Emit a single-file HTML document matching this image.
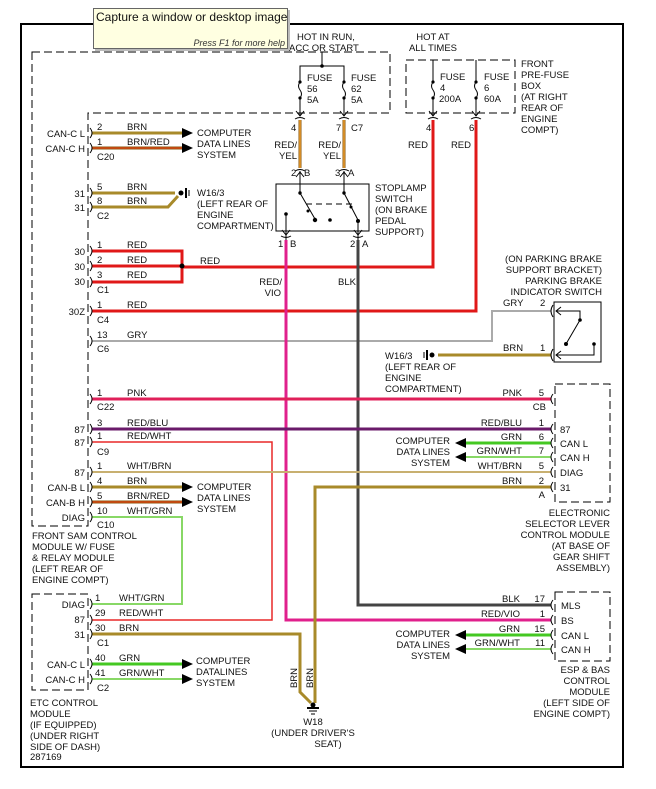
<!DOCTYPE html>
<html><head><meta charset="utf-8"><style>
html,body{margin:0;padding:0;background:#fff;}
svg{display:block;}
text{font-family:"Liberation Sans",sans-serif;font-size:9.5px;fill:#111;}
.r{text-anchor:end;}
.m{text-anchor:middle;}
</style></head><body>
<svg width="656" height="789" viewBox="0 0 656 789" xmlns="http://www.w3.org/2000/svg">
<rect x="0" y="0" width="656" height="789" fill="#fff"/>
<rect x="21" y="24" width="602" height="743" fill="none" stroke="#000" stroke-width="2"/>
<g fill="none" stroke="#000" stroke-width="1" stroke-dasharray="8,4">
<polygon points="32,52 390,52 390,113 88,113 88,526 32,526"/>
<rect x="406" y="60" width="109" height="53"/>
<rect x="555" y="384" width="55" height="118"/>
<rect x="555" y="592" width="55" height="69"/>
<rect x="32" y="594" width="56" height="96"/>
</g>
<g stroke="#000" stroke-width="1" fill="none">
<line x1="322" y1="52" x2="322" y2="66"/>
<polyline points="300,82 300,66 344,66 344,82"/>
<line x1="433" y1="60" x2="433" y2="82"/><line x1="476" y1="60" x2="476" y2="82"/>
<path d="M300,82 q-3,4 0,8 q3,4 0,8 M344,82 q-3,4 0,8 q3,4 0,8 M433,82 q-3,4 0,8 q3,4 0,8 M476,82 q-3,4 0,8 q3,4 0,8"/>
<line x1="300" y1="98" x2="300" y2="116"/><line x1="344" y1="98" x2="344" y2="116"/>
<line x1="433" y1="98" x2="433" y2="116"/><line x1="476" y1="98" x2="476" y2="116"/>
<path d="M296,111 l4,5 l4,-5 M340,111 l4,5 l4,-5 M429,111 l4,5 l4,-5 M472,111 l4,5 l4,-5"/>
<path d="M295,119 q5,-3 10,0 M339,119 q5,-3 10,0 M428,119 q5,-3 10,0 M471,119 q5,-3 10,0"/>
</g>
<g fill="#000"><circle cx="322" cy="66" r="1.8"/>
<circle cx="300" cy="82" r="1.6"/><circle cx="300" cy="98" r="1.6"/><circle cx="344" cy="82" r="1.6"/><circle cx="344" cy="98" r="1.6"/>
<circle cx="433" cy="82" r="1.6"/><circle cx="433" cy="98" r="1.6"/><circle cx="476" cy="82" r="1.6"/><circle cx="476" cy="98" r="1.6"/></g>
<text x="297" y="40">HOT IN RUN,</text><text x="289" y="51">ACC OR START</text>
<text x="433" y="40" class="m">HOT AT</text><text x="433" y="51" class="m">ALL TIMES</text>
<text x="307" y="81">FUSE</text><text x="307" y="92">56</text><text x="307" y="103">5A</text>
<text x="351" y="81">FUSE</text><text x="351" y="92">62</text><text x="351" y="103">5A</text>
<text x="440" y="80">FUSE</text><text x="440" y="91">4</text><text x="439" y="102">200A</text>
<text x="484" y="80">FUSE</text><text x="484" y="91">6</text><text x="484" y="102">60A</text>
<text x="521" y="67">FRONT</text><text x="521" y="78">PRE-FUSE</text><text x="521" y="89">BOX</text><text x="521" y="100">(AT RIGHT</text><text x="521" y="111">REAR OF</text><text x="521" y="122">ENGINE</text><text x="521" y="133">COMPT)</text>

<g fill="none" stroke-linejoin="miter">
<line x1="300" y1="120" x2="300" y2="168" stroke="#8a5a10" stroke-width="3"/><line x1="300" y1="120" x2="300" y2="168" stroke="#f0a030" stroke-width="1.4"/>
<line x1="344" y1="120" x2="344" y2="168" stroke="#8a5a10" stroke-width="3"/><line x1="344" y1="120" x2="344" y2="168" stroke="#f0a030" stroke-width="1.4"/>
<polyline points="433,120 433,267 182,267" stroke="#e01818" stroke-width="3"/>
<polyline points="476,120 476,311 92,311" stroke="#e01818" stroke-width="3"/>
<polyline points="92,251 182,251 182,282 92,282" stroke="#e01818" stroke-width="3"/>
<line x1="92" y1="266" x2="182" y2="266" stroke="#e01818" stroke-width="3"/>
<line x1="92" y1="133" x2="185" y2="133" stroke="#a88a2a" stroke-width="3"/>
<line x1="92" y1="148" x2="185" y2="148" stroke="#8a5a10" stroke-width="3"/><line x1="92" y1="148" x2="185" y2="148" stroke="#e04010" stroke-width="1.3"/>
<line x1="92" y1="193" x2="175" y2="193" stroke="#a88a2a" stroke-width="3"/>
<polyline points="92,207 168,207 178,196" stroke="#a88a2a" stroke-width="3"/>
<polyline points="92,341 492,341 492,311 551,311" stroke="#aaaaaa" stroke-width="2"/>
<line x1="438" y1="355" x2="551" y2="355" stroke="#a88a2a" stroke-width="3"/>
<polyline points="286,240 286,620 551,620" stroke="#e0208c" stroke-width="3"/>
<polyline points="358,240 358,605 551,605" stroke="#444" stroke-width="3"/>
<line x1="92" y1="399" x2="551" y2="399" stroke="#e0205a" stroke-width="3"/>
<line x1="92" y1="429" x2="551" y2="429" stroke="#6a1a6a" stroke-width="3"/>
<polyline points="92,442 272,442 272,620 92,620" stroke="#e82828" stroke-width="1.5"/>
<line x1="92" y1="472" x2="551" y2="472" stroke="#c8b070" stroke-width="2"/>
<line x1="92" y1="487" x2="185" y2="487" stroke="#a88a2a" stroke-width="3"/>
<line x1="92" y1="502" x2="185" y2="502" stroke="#8a5a10" stroke-width="3"/><line x1="92" y1="502" x2="185" y2="502" stroke="#e04010" stroke-width="1.3"/>
<polyline points="92,517 182,517 182,604 92,604" stroke="#88d866" stroke-width="2"/>
<polyline points="551,487 315,487 315,703" stroke="#a88a2a" stroke-width="3"/>
<polyline points="92,634 300,634 300,692 311,703" stroke="#a88a2a" stroke-width="3"/>
<line x1="92" y1="664" x2="185" y2="664" stroke="#44c822" stroke-width="3"/>
<line x1="92" y1="679" x2="185" y2="679" stroke="#88d866" stroke-width="2"/>
<line x1="462" y1="443" x2="551" y2="443" stroke="#44c822" stroke-width="3"/>
<line x1="462" y1="457" x2="551" y2="457" stroke="#88d866" stroke-width="2"/>
<line x1="462" y1="635" x2="551" y2="635" stroke="#44c822" stroke-width="3"/>
<line x1="462" y1="649" x2="551" y2="649" stroke="#88d866" stroke-width="2"/>
</g>
<g fill="#000">
<polygon points="182,128 193,133 182,138"/><polygon points="182,143 193,148 182,153"/>
<polygon points="182,482 193,487 182,492"/><polygon points="182,497 193,502 182,507"/>
<polygon points="182,659 193,664 182,669"/><polygon points="182,674 193,679 182,684"/>
<polygon points="466,438 455,443 466,448"/><polygon points="466,452 455,457 466,462"/>
<polygon points="466,630 455,635 466,640"/><polygon points="466,644 455,649 466,654"/>
<circle cx="182" cy="266" r="2.5"/>
</g>
<g stroke="#000" fill="none">
<line x1="186" y1="188" x2="186" y2="198" stroke-width="2"/><line x1="189" y1="190" x2="189" y2="196"/>
<line x1="427" y1="350" x2="427" y2="360" stroke-width="2"/><line x1="424" y1="352" x2="424" y2="358"/>
<line x1="307" y1="708" x2="319" y2="708" stroke-width="2"/><line x1="309" y1="711" x2="317" y2="711"/><line x1="311" y1="714" x2="315" y2="714"/>
</g>
<g fill="#000"><circle cx="181" cy="193" r="2.5"/><circle cx="432" cy="355" r="2.5"/><circle cx="313" cy="705" r="2.5"/></g>

<g stroke="#000" fill="none" stroke-width="1">
<rect x="276" y="184" width="93" height="47"/>
<path d="M295,171 q5,-3 10,0 M339,171 q5,-3 10,0 M281,236 q5,3 10,0 M353,236 q5,3 10,0"/>
<line x1="300" y1="171" x2="300" y2="193"/><line x1="344" y1="171" x2="344" y2="193"/>
<path d="M296,177 l4,-5 l4,5 M340,177 l4,-5 l4,5"/>
<line x1="300" y1="193" x2="315" y2="219"/><line x1="344" y1="193" x2="358" y2="220"/>
<line x1="306" y1="204" x2="353" y2="204" stroke-dasharray="6,4"/>
<line x1="286" y1="214" x2="286" y2="240"/><line x1="358" y1="220" x2="358" y2="240"/>
<path d="M282,230 l4,5 l4,-5 M354,230 l4,5 l4,-5"/>
</g>
<g fill="#000"><circle cx="300" cy="193" r="1.7"/><circle cx="344" cy="193" r="1.7"/><circle cx="315" cy="220" r="2.2"/><circle cx="330" cy="220" r="1.8"/><circle cx="358" cy="221" r="2"/><circle cx="286" cy="214" r="1.8"/><circle cx="308" cy="211" r="1.5"/><circle cx="351" cy="207" r="1.5"/></g>
<text x="375" y="191">STOPLAMP</text><text x="375" y="202">SWITCH</text><text x="375" y="213">(ON BRAKE</text><text x="375" y="224">PEDAL</text><text x="375" y="235">SUPPORT)</text>
<text x="291" y="131">4</text><text x="336" y="131">7</text><text x="351" y="131">C7</text>
<text x="297" y="148" class="r">RED/</text><text x="297" y="159" class="r">YEL</text>
<text x="341" y="148" class="r">RED/</text><text x="341" y="159" class="r">YEL</text>
<text x="291" y="176">2</text><text x="304" y="176">B</text><text x="335" y="176">3</text><text x="348" y="176">A</text>
<text x="278" y="247">1</text><text x="290" y="247">B</text><text x="350" y="247">2</text><text x="362" y="247">A</text>
<text x="282" y="285" class="r">RED/</text><text x="281" y="296" class="r">VIO</text>
<text x="338" y="285">BLK</text>
<text x="426" y="131">4</text><text x="469" y="131">6</text>
<text x="428" y="148" class="r">RED</text><text x="471" y="148" class="r">RED</text>

<rect x="554" y="302" width="47" height="60" fill="none" stroke="#000"/>
<g stroke="#000" fill="none"><path d="M556,311 h24 v9 L566,344 M556,355 h38 v-11"/><path d="M553,305 q-4,6 0,12 M553,349 q-4,6 0,12"/><path d="M561,307 l-5,4 l5,4 M561,351 l-5,4 l5,4"/></g>
<g fill="#000"><circle cx="580" cy="320" r="1.8"/><circle cx="566" cy="344" r="2"/><circle cx="594" cy="344" r="1.8"/></g>
<text x="602" y="262" class="r">(ON PARKING BRAKE</text><text x="602" y="273" class="r">SUPPORT BRACKET)</text><text x="602" y="284" class="r">PARKING BRAKE</text><text x="602" y="295" class="r">INDICATOR SWITCH</text>
<text x="503" y="306">GRY</text><text x="540" y="306">2</text><text x="503" y="351">BRN</text><text x="540" y="351">1</text>
<text x="385" y="359">W16/3</text><text x="385" y="370">(LEFT REAR OF</text><text x="385" y="381">ENGINE</text><text x="385" y="392">COMPARTMENT)</text>

<g stroke="#000" fill="none">
<path d="M90,128 q4,5 0,10 M90,143 q4,5 0,10 M90,188 q4,5 0,10 M90,202 q4,5 0,10 M90,246 q4,5 0,10 M90,261 q4,5 0,10 M90,277 q4,5 0,10 M90,306 q4,5 0,10 M90,336 q4,5 0,10 M90,394 q4,5 0,10 M90,424 q4,5 0,10 M90,437 q4,5 0,10 M90,467 q4,5 0,10 M90,482 q4,5 0,10 M90,497 q4,5 0,10 M90,512 q4,5 0,10 M90,599 q4,5 0,10 M90,615 q4,5 0,10 M90,629 q4,5 0,10 M90,659 q4,5 0,10 M90,674 q4,5 0,10"/>
<path d="M553,394 q-4,5 0,10 M553,424 q-4,5 0,10 M553,438 q-4,5 0,10 M553,452 q-4,5 0,10 M553,467 q-4,5 0,10 M553,482 q-4,5 0,10 M553,600 q-4,5 0,10 M553,615 q-4,5 0,10 M553,630 q-4,5 0,10 M553,644 q-4,5 0,10"/>
</g>
<g>
<text x="85" y="137" class="r">CAN-C L</text><text x="85" y="152" class="r">CAN-C H</text>
<text x="97" y="130">2</text><text x="97" y="145">1</text><text x="97" y="160">C20</text>
<text x="127" y="130">BRN</text><text x="127" y="145">BRN/RED</text>
<text x="197" y="136">COMPUTER</text><text x="197" y="147">DATA LINES</text><text x="197" y="158">SYSTEM</text>
<text x="85" y="197" class="r">31</text><text x="85" y="211" class="r">31</text>
<text x="97" y="190">5</text><text x="97" y="204">8</text><text x="97" y="219">C2</text>
<text x="127" y="190">BRN</text><text x="127" y="204">BRN</text>
<text x="197" y="196">W16/3</text><text x="197" y="207">(LEFT REAR OF</text><text x="197" y="218">ENGINE</text><text x="197" y="229">COMPARTMENT)</text>
<text x="85" y="255" class="r">30</text><text x="85" y="270" class="r">30</text><text x="85" y="285" class="r">30</text>
<text x="97" y="248">1</text><text x="97" y="263">2</text><text x="97" y="278">3</text><text x="97" y="293">C1</text>
<text x="127" y="248">RED</text><text x="127" y="263">RED</text><text x="127" y="278">RED</text><text x="200" y="264">RED</text>
<text x="85" y="315" class="r">30Z</text><text x="97" y="308">1</text><text x="97" y="323">C4</text><text x="127" y="308">RED</text>
<text x="97" y="338">13</text><text x="97" y="352">C6</text><text x="127" y="338">GRY</text>
<text x="97" y="396">1</text><text x="97" y="410">C22</text><text x="127" y="396">PNK</text>
<text x="85" y="433" class="r">87</text><text x="85" y="446" class="r">87</text>
<text x="97" y="426">3</text><text x="97" y="439">1</text><text x="97" y="455">C9</text>
<text x="127" y="426">RED/BLU</text><text x="127" y="439">RED/WHT</text>
<text x="85" y="476" class="r">87</text><text x="85" y="491" class="r">CAN-B L</text><text x="85" y="506" class="r">CAN-B H</text><text x="85" y="521" class="r">DIAG</text>
<text x="97" y="469">1</text><text x="97" y="484">4</text><text x="97" y="499">5</text><text x="97" y="514">10</text><text x="97" y="528">C10</text>
<text x="127" y="469">WHT/BRN</text><text x="127" y="484">BRN</text><text x="127" y="499">BRN/RED</text><text x="127" y="514">WHT/GRN</text>
<text x="197" y="490">COMPUTER</text><text x="197" y="501">DATA LINES</text><text x="197" y="512">SYSTEM</text>
<text x="32" y="539">FRONT SAM CONTROL</text><text x="32" y="550">MODULE W/ FUSE</text><text x="32" y="561">&amp; RELAY MODULE</text><text x="32" y="572">(LEFT REAR OF</text><text x="32" y="583">ENGINE COMPT)</text>
<text x="85" y="608" class="r">DIAG</text><text x="85" y="623" class="r">87</text><text x="85" y="638" class="r">31</text>
<text x="95" y="601">1</text><text x="95" y="616">29</text><text x="95" y="631">30</text><text x="97" y="646">C1</text>
<text x="119" y="601">WHT/GRN</text><text x="119" y="616">RED/WHT</text><text x="119" y="631">BRN</text>
<text x="85" y="668" class="r">CAN-C L</text><text x="85" y="683" class="r">CAN-C H</text>
<text x="95" y="661">40</text><text x="95" y="676">41</text><text x="97" y="691">C2</text>
<text x="119" y="661">GRN</text><text x="119" y="676">GRN/WHT</text>
<text x="196" y="664">COMPUTER</text><text x="196" y="675">DATALINES</text><text x="196" y="686">SYSTEM</text>
<text x="30" y="706">ETC CONTROL</text><text x="30" y="717">MODULE</text><text x="30" y="728">(IF EQUIPPED)</text><text x="30" y="739">(UNDER RIGHT</text><text x="30" y="750">SIDE OF DASH)</text><text x="30" y="760">287169</text>
<text transform="translate(297,678) rotate(-90)" class="m">BRN</text><text transform="translate(313,678) rotate(-90)" class="m">BRN</text>
<text x="313" y="725" class="m">W18</text><text x="313" y="736" class="m">(UNDER DRIVER'S</text><text x="328" y="747" class="m">SEAT)</text>
<text x="522" y="396" class="r">PNK</text><text x="544" y="396" class="r">5</text><text x="546" y="410" class="r">CB</text>
<text x="522" y="426" class="r">RED/BLU</text><text x="544" y="426" class="r">1</text>
<text x="522" y="440" class="r">GRN</text><text x="544" y="440" class="r">6</text>
<text x="522" y="454" class="r">GRN/WHT</text><text x="544" y="454" class="r">7</text>
<text x="522" y="469" class="r">WHT/BRN</text><text x="544" y="469" class="r">5</text>
<text x="522" y="484" class="r">BRN</text><text x="544" y="484" class="r">2</text><text x="545" y="498" class="r">A</text>
<text x="450" y="444" class="r">COMPUTER</text><text x="450" y="455" class="r">DATA LINES</text><text x="450" y="466" class="r">SYSTEM</text>
<text x="560" y="433">87</text><text x="560" y="447">CAN L</text><text x="560" y="461">CAN H</text><text x="560" y="476">DIAG</text><text x="560" y="491">31</text>
<text x="610" y="516" class="r">ELECTRONIC</text><text x="610" y="527" class="r">SELECTOR LEVER</text><text x="610" y="538" class="r">CONTROL MODULE</text><text x="610" y="549" class="r">(AT BASE OF</text><text x="610" y="560" class="r">GEAR SHIFT</text><text x="610" y="571" class="r">ASSEMBLY)</text>
<text x="520" y="602" class="r">BLK</text><text x="545" y="602" class="r">17</text>
<text x="520" y="617" class="r">RED/VIO</text><text x="545" y="617" class="r">1</text>
<text x="520" y="632" class="r">GRN</text><text x="545" y="632" class="r">15</text>
<text x="520" y="646" class="r">GRN/WHT</text><text x="545" y="646" class="r">11</text>
<text x="450" y="637" class="r">COMPUTER</text><text x="450" y="648" class="r">DATA LINES</text><text x="450" y="659" class="r">SYSTEM</text>
<text x="561" y="609">MLS</text><text x="561" y="624">BS</text><text x="561" y="639">CAN L</text><text x="561" y="653">CAN H</text>
<text x="610" y="673" class="r">ESP &amp; BAS</text><text x="610" y="684" class="r">CONTROL</text><text x="610" y="695" class="r">MODULE</text><text x="610" y="706" class="r">(LEFT SIDE OF</text><text x="610" y="717" class="r">ENGINE COMPT)</text>
</g>
<rect x="93.5" y="8.5" width="194" height="40" fill="#ffffe1" stroke="#666"/>
<line x1="289" y1="10" x2="289" y2="50" stroke="#bbb" stroke-width="2"/>
<line x1="95" y1="50" x2="289" y2="50" stroke="#bbb" stroke-width="2"/>
<text x="96" y="21" style="font-size:12px">Capture a window or desktop image</text>
<text x="285" y="46" class="r" style="font-style:italic;font-size:9px;fill:#333">Press F1 for more help</text>
</svg>
</body></html>
